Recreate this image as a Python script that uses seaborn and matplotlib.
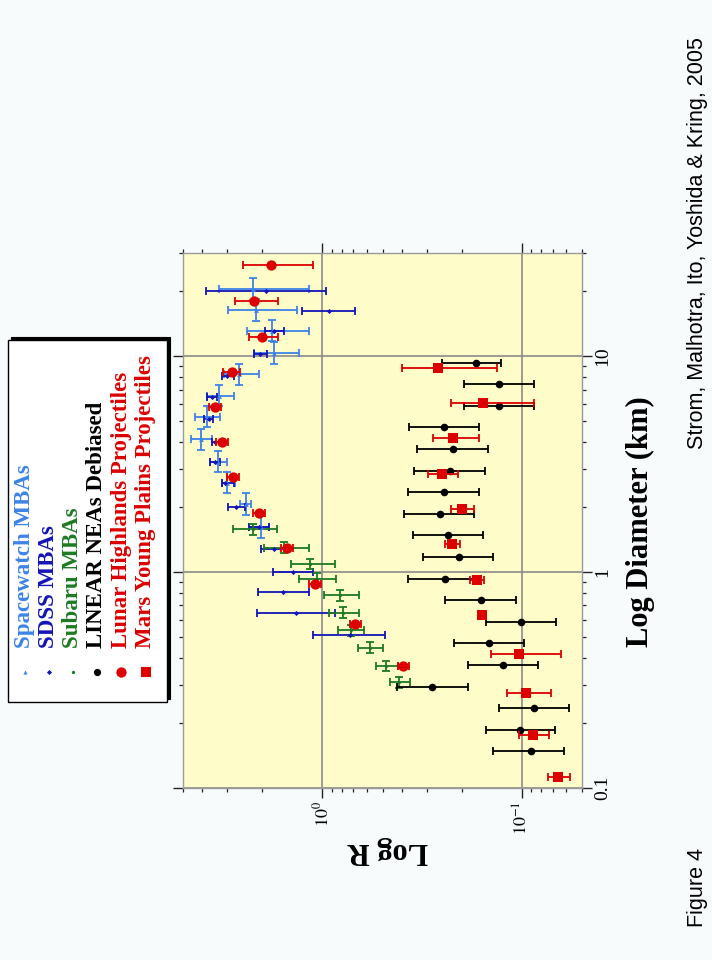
import numpy as np
import pandas as pd
import matplotlib
matplotlib.use("Agg")
import matplotlib.pyplot as plt
import seaborn as sns
from matplotlib.lines import Line2D
from matplotlib.patches import Rectangle
from matplotlib.ticker import LogLocator, NullFormatter

# ---------------- data (diameter in km, R value) ----------------
# Spacewatch MBAs
sw_D = [20.4, 16.3, 13.1, 10.35, 8.22, 6.55, 5.24, 4.11, 3.24, 2.59, 2.07, 1.62]
sw_D_lo = [18.2, 14.5, 11.7, 9.22, 7.33, 5.84, 4.67, 3.66, 2.89, 2.31, 1.84, 1.44]
sw_D_hi = [22.9, 18.3, 14.7, 11.6, 9.22, 7.35, 5.88, 4.61, 3.64, 2.91, 2.32, 1.82]
sw_R = [2.23, 2.15, 1.78, 1.74, 2.62, 3.30, 3.79, 4.06, 3.32, 3.01, 2.41, 2.03]
sw_R_hi = [3.30, 2.96, 2.39, 2.21, 3.13, 3.79, 4.35, 4.55, 3.68, 3.19, 2.58, 2.33]
sw_R_lo = [1.17, 1.34, 1.17, 1.31, 2.08, 2.76, 3.26, 3.58, 3.01, 2.74, 2.28, 1.85]

# SDSS MBAs
sd_D = [20.1, 16.1, 13.0, 10.2, 8.07, 6.46, 5.09, 4.00, 3.22, 2.58, 2.01, 1.61,
        1.28, 1.00, 0.804, 0.643, 0.509]
sd_R = [1.91, 0.929, 1.74, 2.05, 3.01, 3.58, 3.72, 3.47, 3.45, 3.07, 2.70, 2.09,
        1.74, 1.40, 1.57, 1.35, 0.730]
sd_R_hi = [3.83, 1.26, 1.95, 2.21, 3.17, 3.79, 3.94, 3.58, 3.68, 3.19, 2.96, 2.34,
           2.03, 1.76, 2.11, 2.13, 1.11]
sd_R_lo = [0.962, 0.690, 1.55, 1.90, 2.79, 3.38, 3.52, 3.16, 3.26, 2.79, 2.44, 1.86,
           1.52, 1.11, 1.17, 0.861, 0.488]

# Subaru MBAs
su_D = [1.58, 1.29, 1.09, 0.933, 0.780, 0.649, 0.538, 0.447, 0.367, 0.308]
su_D_lo = [1.49, 1.22, 1.03, 0.881, 0.737, 0.613, 0.508, 0.422, 0.347, 0.291]
su_D_hi = [1.67, 1.37, 1.15, 0.988, 0.826, 0.687, 0.570, 0.473, 0.389, 0.326]
su_R = [2.23, 1.55, 1.15, 1.07, 0.815, 0.793, 0.723, 0.578, 0.482, 0.414]
su_R_hi = [2.81, 1.97, 1.43, 1.31, 0.984, 0.929, 0.834, 0.662, 0.542, 0.459]
su_R_lo = [1.68, 1.17, 0.867, 0.851, 0.653, 0.659, 0.617, 0.498, 0.420, 0.364]

# LINEAR NEAs Debiased
ln_D = [9.33, 7.41, 5.89, 4.68, 3.72, 2.95, 2.34, 1.86, 1.48, 1.17, 0.933, 0.741,
        0.589, 0.468, 0.372, 0.295, 0.234, 0.186, 0.148]
ln_R = [0.169, 0.130, 0.130, 0.245, 0.222, 0.230, 0.247, 0.258, 0.236, 0.207, 0.244,
        0.161, 0.101, 0.147, 0.124, 0.281, 0.0867, 0.102, 0.0902]
ln_R_lo = [0.128, 0.0867, 0.0867, 0.164, 0.148, 0.154, 0.164, 0.173, 0.157, 0.139,
           0.163, 0.107, 0.0678, 0.098, 0.0828, 0.187, 0.0582, 0.0681, 0.0612]
ln_R_hi = [0.252, 0.195, 0.195, 0.370, 0.336, 0.348, 0.372, 0.388, 0.353, 0.313,
           0.371, 0.242, 0.152, 0.220, 0.187, 0.425, 0.131, 0.152, 0.139]

# Lunar Highlands Projectiles
lu_D = [26.3, 18.0, 12.3, 8.45, 5.82, 3.98, 2.74, 1.88, 1.29, 0.883, 0.573, 0.367]
lu_R = [1.81, 2.20, 2.02, 2.84, 3.45, 3.18, 2.81, 2.09, 1.50, 1.09, 0.685, 0.394]
lu_R_hi = [2.50, 2.73, 2.34, 3.15, 3.69, 3.40, 3.01, 2.24, 1.61, 1.17, 0.73, 0.42]
lu_R_lo = [1.12, 1.67, 1.67, 2.60, 3.22, 2.97, 2.63, 1.95, 1.40, 1.02, 0.64, 0.37]

# Mars Young Plains Projectiles
ma_D = [8.83, 6.04, 4.16, 2.83, 1.96, 1.35, 0.920, 0.632, 0.417, 0.274, 0.176, 0.112]
ma_R = [0.265, 0.157, 0.221, 0.252, 0.199, 0.223, 0.168, 0.158, 0.103, 0.0955,
        0.0883, 0.0658]
ma_R_hi = [0.400, 0.228, 0.279, 0.296, 0.226, 0.243, 0.182, 0.166, 0.143, 0.119,
           0.104, 0.0738]
ma_R_lo = [0.133, 0.0867, 0.164, 0.209, 0.173, 0.205, 0.155, 0.151, 0.0637, 0.0715,
           0.0735, 0.0574]

D_ticks = [0.1, 1, 10]
D_tick_labels = ["0.1", "1", "10"]
R_ticks = [0.1, 1]
R_tick_labels = [r"$10^{-1}$", r"$10^{0}$"]

legend_labels = ["Spacewatch MBAs", "SDSS MBAs", "Subaru MBAs",
                 "LINEAR NEAs Debiased", "Lunar Highlands Projectiles",
                 "Mars Young Plains Projectiles"]

# ---------------- style ----------------
C_SW = "#3d83e8"
C_SD = "#1414b8"
C_SU = "#1d7a22"
C_LN = "#000000"
C_RED = "#dc0000"
BG = "#f8fbfc"
AX_BG = "#fefcc8"

sns.set_theme(style="white")
plt.rcParams['font.family'] = ['Liberation Serif', 'DejaVu Serif']
plt.rcParams['mathtext.fontset'] = 'stix'

fig = plt.figure(figsize=(7.12, 9.6), dpi=100, facecolor=BG)
W, H = 712.0, 960.0
ax = fig.add_axes([183 / W, 1 - 788 / H, 399 / W, 535 / H])
ax.set_facecolor(AX_BG)
ax.set_xscale('log')
ax.set_yscale('log')
ax.set_xlim(5, 0.05)
ax.set_ylim(0.1, 30)


def err(v, lo, hi):
    v, lo, hi = np.asarray(v), np.asarray(lo), np.asarray(hi)
    return np.vstack([v - lo, hi - v])


eb = dict(fmt='none', elinewidth=1.3, capthick=1.3)

# Spacewatch
ax.errorbar(sw_R, sw_D, xerr=err(sw_R, sw_R_lo, sw_R_hi),
            yerr=err(sw_D, sw_D_lo, sw_D_hi), ecolor=C_SW, capsize=3.2,
            zorder=3, **eb)
sns.scatterplot(x=sw_R, y=sw_D, ax=ax, marker='^', s=12, color=C_SW,
                linewidth=0, zorder=4)
# SDSS
ax.errorbar(sd_R, sd_D, xerr=err(sd_R, sd_R_lo, sd_R_hi), ecolor=C_SD,
            capsize=2.6, zorder=3, **eb)
sns.scatterplot(x=sd_R, y=sd_D, ax=ax, marker='D', s=7, color=C_SD,
                linewidth=0, zorder=4)
# Subaru
ax.errorbar(su_R, su_D, xerr=err(su_R, su_R_lo, su_R_hi),
            yerr=err(su_D, su_D_lo, su_D_hi), ecolor=C_SU, capsize=3.0,
            zorder=3, **eb)
sns.scatterplot(x=su_R, y=su_D, ax=ax, marker='o', s=5, color=C_SU,
                linewidth=0, zorder=4)
# LINEAR
ax.errorbar(ln_R, ln_D, xerr=err(ln_R, ln_R_lo, ln_R_hi), ecolor=C_LN,
            capsize=3.0, zorder=5, **eb)
sns.scatterplot(x=ln_R, y=ln_D, ax=ax, marker='o', s=30, color=C_LN,
                linewidth=0, zorder=6)
# Lunar
ax.errorbar(lu_R, lu_D, xerr=err(lu_R, lu_R_lo, lu_R_hi), ecolor=C_RED,
            capsize=3.0, zorder=7, **eb)
sns.scatterplot(x=lu_R, y=lu_D, ax=ax, marker='o', s=55, color=C_RED,
                linewidth=0, zorder=8)
# Mars
ax.errorbar(ma_R, ma_D, xerr=err(ma_R, ma_R_lo, ma_R_hi), ecolor=C_RED,
            capsize=3.0, zorder=7, **eb)
sns.scatterplot(x=ma_R, y=ma_D, ax=ax, marker='s', s=48, color=C_RED,
                linewidth=0, zorder=8)

ax.set_xlim(5, 0.05)
ax.set_ylim(0.1, 30)

# ---------------- axes decoration ----------------
ax.set_xticks(R_ticks)
ax.set_xticklabels(R_tick_labels, rotation=90, fontsize=13)
ax.set_yticks(D_ticks)
ax.set_yticklabels(D_tick_labels, rotation=90, fontsize=14, va='center')
ax.xaxis.set_minor_locator(LogLocator(base=10, subs=np.arange(2, 10)))
ax.yaxis.set_minor_locator(LogLocator(base=10, subs=np.arange(2, 10)))
ax.xaxis.set_minor_formatter(NullFormatter())
ax.yaxis.set_minor_formatter(NullFormatter())
ax.tick_params(which='both', direction='out', top=True, bottom=True,
               left=True, right=True, labelleft=False, labelright=True,
               labelbottom=True, labeltop=False, color='#222222',
               labelcolor='black')
ax.tick_params(which='major', length=7, width=1.0, pad=2)
ax.tick_params(which='minor', length=3, width=0.9)
ax.grid(which='major', color='#8c8c8c', linewidth=1.2)
ax.grid(which='minor', visible=False)
for sp in ax.spines.values():
    sp.set_color('#9a9a9a')
    sp.set_linewidth(1.0)

ax.set_xlabel("Log R", fontsize=22, fontweight='bold', rotation=180,
              color='black')
ax.xaxis.label.set_va('center')
ax.xaxis.set_label_coords((388 - 183) / 399, -(850 - 788) / 535)
ax.yaxis.set_label_position('right')
ax.set_ylabel("Log Diameter (km)", fontsize=22, fontweight='bold',
              rotation=90, color='black')
ax.yaxis.label.set_va('center')
ax.yaxis.label.set_ha('center')
ax.yaxis.set_label_coords((640 - 183) / 399, (788 - 522) / 535)

# ---------------- legend (rotated, drawn manually) ----------------
bx0, bx1, by0, by1 = 8, 167, 340, 702
fig.add_artist(Rectangle((bx0 / W + 3.0 / W, 1 - by1 / H + 3.0 / H),
                         (bx1 - bx0) / W, (by1 - by0) / H,
                         transform=fig.transFigure, facecolor='black',
                         edgecolor='black', lw=0.8, zorder=1))
fig.add_artist(Rectangle((bx0 / W, 1 - by1 / H), (bx1 - bx0) / W,
                         (by1 - by0) / H, transform=fig.transFigure,
                         facecolor='white', edgecolor='black', lw=1.0,
                         zorder=2))
leg_cols = [C_SW, C_SD, C_SU, C_LN, C_RED, C_RED]
leg_marks = [('^', 3.0), ('D', 2.6), ('o', 2.4), ('o', 5.2), ('o', 7.4), ('s', 6.6)]
leg_x = [25, 49, 73, 97, 121, 146]
for lab, col, (mk, ms), xp in zip(legend_labels, leg_cols, leg_marks, leg_x):
    fig.add_artist(Line2D([xp / W], [1 - 672 / H], marker=mk, markersize=ms,
                          color=col, markeredgewidth=0, linestyle='none',
                          transform=fig.transFigure, zorder=3))
    fig.text(xp / W, 1 - 648 / H, lab, rotation=90, ha='center', va='bottom',
             color=col, fontsize=16.5, fontweight='bold', zorder=3)

# ---------------- side captions ----------------
fig.text(687 / W, 1 - 243 / H, "Strom, Malhotra, Ito, Yoshida & Kring, 2005",
         rotation=90, ha='left', va='center', fontsize=15.5,
         family=['Liberation Sans', 'DejaVu Sans'], color='black')
fig.text(687 / W, 1 - 927 / H, "Figure 4", rotation=90, ha='left',
         va='bottom', fontsize=15.5, family=['Liberation Sans', 'DejaVu Sans'],
         color='black')

fig.savefig("out.png", dpi=100, facecolor=BG)
